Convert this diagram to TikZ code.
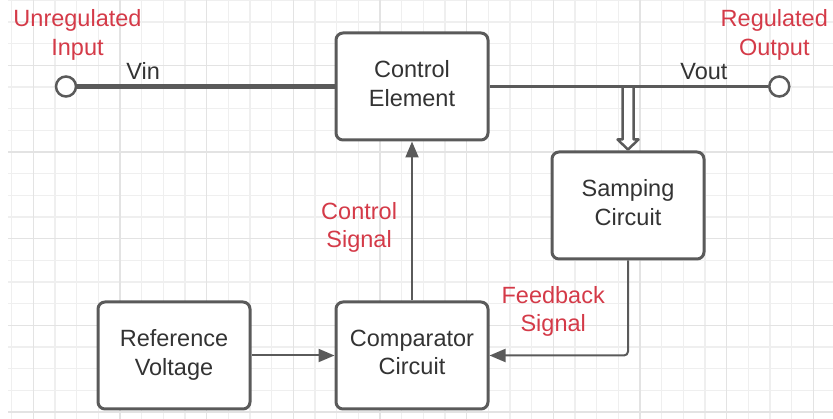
\documentclass[tikz,border=0pt]{standalone}
\usepackage{fontspec}
\setmainfont{Liberation Sans}
\usetikzlibrary{
  arrows.meta,
  positioning,
  calc
}
\definecolor{linegray}{RGB}{90,90,90}
\definecolor{textgray}{RGB}{51,51,51}
\definecolor{labelred}{RGB}{212,58,72}
\definecolor{gridminor}{RGB}{239,239,239}
\definecolor{gridmajor}{RGB}{227,227,227}
\tikzset{
  blockbox/.style={
    draw=linegray, fill=white, line width=3pt,
    rounded corners=7pt, minimum width=152pt,
    minimum height=107pt, align=center, text depth=6pt,
    font=\fontsize{23.5}{28.5}\selectfont, text=textgray
  },
  terminal/.style={
    circle, draw=linegray, fill=white, line width=2.5pt,
    minimum size=20pt, inner sep=0pt
  },
  wirelabel/.style={
    font=\fontsize{23.5}{28.5}\selectfont, text=textgray,
    inner sep=0pt
  },
  redlabel/.style={
    font=\fontsize{23.5}{28.5}\selectfont, text=labelred,
    align=center, inner sep=0pt
  },
  inwire/.style={
    draw=linegray, line width=4.5pt
  },
  outwire/.style={
    draw=linegray, line width=3.5pt
  },
  sigarrow/.style={
    -{Triangle[length=16pt,width=13pt]},
    draw=linegray, line width=2pt
  },
  hollowarrow/.style={
    draw=linegray, fill=white, line width=2.5pt, line join=round
  },
  minorline/.style={draw=gridminor, line width=1.2pt},
  majorline/.style={draw=gridmajor, line width=1.2pt},
}

\begin{document}
\begin{tikzpicture}[x=1pt, y=1pt]

  \useasboundingbox (0,0) rectangle (833,-419);

  %% Grid
  \foreach \i in {0,...,37}
    \draw[minorline] ({11.67+21.667*\i},0) -- ({11.67+21.667*\i},-419);
  \foreach \j in {0,...,19}
    \draw[minorline] (8,{-0.33-21.667*\j}) -- (833,{-0.33-21.667*\j});
  \foreach \i in {1,5,...,37}
    \draw[majorline] ({11.67+21.667*\i},0) -- ({11.67+21.667*\i},-419);
  \foreach \j in {3,7,...,19}
    \draw[majorline] (8,{-0.33-21.667*\j}) -- (833,{-0.33-21.667*\j});

  %% Blocks
  \node[blockbox] (ctrl) at (412,-86.5) {Control\\Element};
  \node[blockbox, below=159pt of ctrl] (cmp) {Comparator\\Circuit};
  \node[blockbox, left=83pt of cmp] (ref) {Reference\\Voltage};
  \node[blockbox, below right=9pt and 61pt of ctrl] (samp) {Samping\\Circuit};

  %% Terminals
  \node[terminal] (vin) at (66,-86.5) {};
  \node[terminal] (vout) at (779.3,-86.5) {};

  \node[redlabel, above=15pt of vin, xshift=11.5pt] (inlbl)
    {Unregulated\\Input};
  \node[redlabel, above=15pt of vout, xshift=-5pt] (outlbl)
    {Regulated\\Output};

  %% Sampling tap
  \coordinate (tap) at (samp.north |- ctrl.east);
  \draw[hollowarrow] ([xshift=-5.5pt]tap)
    -- ([xshift=-5.5pt, yshift=11pt]samp.north)
    -- ([xshift=-10.5pt, yshift=11pt]samp.north)
    -- ([yshift=1pt]samp.north)
    -- ([xshift=10.5pt, yshift=11pt]samp.north)
    -- ([xshift=5.5pt, yshift=11pt]samp.north)
    -- ([xshift=5.5pt]tap);

  %% Power path
  \draw[inwire] (vin.east) -- (ctrl.west)
    node[wirelabel, pos=0.256, above=5pt] {Vin};
  \draw[outwire] (ctrl.east) -- (vout.west)
    node[wirelabel, pos=0.77, above=5pt] {Vout};

  %% Control loop
  \draw[sigarrow] (cmp.north) -- (ctrl.south)
    node[redlabel, pos=0.46, left=14pt] {Control\\Signal};
  \draw[sigarrow] (ref.east) -- (cmp.west);
  \draw[sigarrow, rounded corners=4pt] (samp.south) |- (cmp.east)
    node[redlabel, pos=0.77, above=18pt] {Feedback\\Signal};

\end{tikzpicture}
\end{document}
